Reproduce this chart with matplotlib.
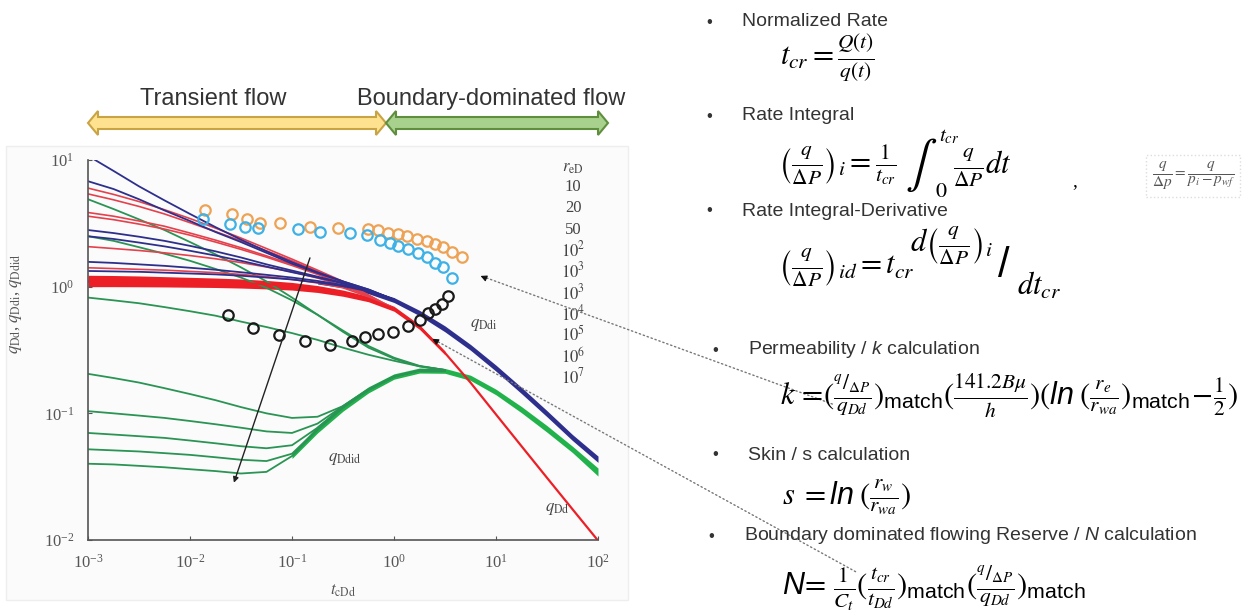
import matplotlib
matplotlib.use("Agg")
import matplotlib.pyplot as plt
from matplotlib.patches import Polygon, Rectangle

plt.rcParams["font.family"] = ["Liberation Serif", "DejaVu Serif"]
plt.rcParams["mathtext.fontset"] = "custom"
plt.rcParams["mathtext.rm"] = "STIXGeneral"
plt.rcParams["mathtext.it"] = "STIXGeneral:italic"
plt.rcParams["mathtext.sf"] = "Liberation Sans"
plt.rcParams["mathtext.bf"] = "Liberation Sans:italic"
plt.rcParams["mathtext.fallback"] = "stix"

W, H = 1244, 613


def fx(px):
    return px / W


def fy(py):
    return 1 - py / H


# ── data (quarter-decade grid in t_cDd) ────────────────────────────────────
T4 = [0.001, 0.00178, 0.00316, 0.00562, 0.01, 0.0178, 0.0316, 0.0562, 0.1, 0.178,
      0.316, 0.562, 1.0, 1.78, 3.16, 5.62, 10.0, 17.8, 31.6, 56.2, 100.0]

# q_Ddi, transient branches (t = 0.001 .. 1)
BLUE_CURVES = [
    [10.8, 8.2, 6.2, 4.8, 3.75, 2.95, 2.35, 1.9, 1.56, 1.3, 1.1, 0.95, 0.79],
    [6.8, 5.9, 4.9, 4.0, 3.3, 2.7, 2.25, 1.85, 1.52, 1.28, 1.1, 0.95, 0.79],
    [2.8, 2.65, 2.48, 2.3, 2.1, 1.9, 1.7, 1.5, 1.34, 1.2, 1.07, 0.94, 0.79],
    [2.5, 2.38, 2.23, 2.08, 1.92, 1.76, 1.6, 1.44, 1.3, 1.18, 1.06, 0.94, 0.79],
    [1.57, 1.54, 1.5, 1.46, 1.41, 1.36, 1.3, 1.24, 1.18, 1.11, 1.03, 0.93, 0.79],
    [1.33, 1.32, 1.31, 1.29, 1.27, 1.25, 1.22, 1.18, 1.14, 1.08, 1.01, 0.92, 0.79],
]
# q_Dd, transient branches (t = 0.001 .. 1)
RED_CURVES = [
    [6.0, 5.35, 4.7, 4.05, 3.45, 2.9, 2.42, 2.0, 1.65, 1.35, 1.1, 0.86, 0.67],
    [5.4, 4.85, 4.3, 3.75, 3.2, 2.72, 2.3, 1.92, 1.6, 1.32, 1.08, 0.85, 0.67],
    [3.85, 3.6, 3.3, 3.0, 2.65, 2.33, 2.03, 1.75, 1.5, 1.27, 1.06, 0.85, 0.67],
    [3.6, 3.38, 3.12, 2.85, 2.55, 2.25, 1.97, 1.71, 1.47, 1.25, 1.05, 0.84, 0.67],
    [2.07, 2.0, 1.93, 1.85, 1.76, 1.66, 1.55, 1.43, 1.31, 1.17, 1.02, 0.84, 0.67],
    [1.41, 1.39, 1.37, 1.35, 1.32, 1.29, 1.25, 1.2, 1.14, 1.07, 0.98, 0.83, 0.67],
]
# q_Ddid, transient branches (t = 0.001 .. 3.16)
GREEN_CURVES = [
    [4.9, 4.1, 3.4, 2.8, 2.25, 1.8, 1.42, 1.1, 0.82, 0.6, 0.44, 0.33, 0.27, 0.235, 0.22],
    [2.5, 2.3, 2.05, 1.82, 1.6, 1.38, 1.18, 0.98, 0.78, 0.6, 0.45, 0.34, 0.275, 0.237, 0.22],
    [0.82, 0.78, 0.74, 0.69, 0.64, 0.59, 0.53, 0.48, 0.43, 0.38, 0.33, 0.29, 0.26, 0.235, 0.22],
    [0.205, 0.19, 0.175, 0.158, 0.142, 0.127, 0.112, 0.1, 0.092, 0.094, 0.114, 0.155, 0.196, 0.218, 0.217],
    [0.104, 0.1, 0.096, 0.092, 0.087, 0.082, 0.077, 0.072, 0.07, 0.083, 0.114, 0.154, 0.195, 0.218, 0.217],
    [0.07, 0.068, 0.066, 0.064, 0.061, 0.058, 0.055, 0.053, 0.056, 0.077, 0.112, 0.153, 0.195, 0.218, 0.217],
    [0.052, 0.051, 0.05, 0.0485, 0.047, 0.045, 0.043, 0.042, 0.048, 0.075, 0.111, 0.153, 0.195, 0.218, 0.217],
    [0.040, 0.0395, 0.0385, 0.0375, 0.0362, 0.035, 0.0335, 0.0345, 0.046, 0.074, 0.111, 0.153, 0.195, 0.218, 0.217],
]

# converged stems: thick red band (t = 0.001 .. 3.16) and red line (full range)
RED_HI = [1.23, 1.225, 1.215, 1.2, 1.185, 1.17, 1.15, 1.12, 1.08, 1.02, 0.94, 0.84, 0.70, 0.5, 0.31]
RED_LO = [1.0, 1.0, 0.998, 0.995, 0.99, 0.985, 0.975, 0.96, 0.94, 0.9, 0.84, 0.76, 0.64, 0.46, 0.29]
RED_LINE = [1.1, 1.1, 1.1, 1.095, 1.09, 1.08, 1.065, 1.045, 1.01, 0.96, 0.89, 0.8, 0.67,
            0.48, 0.30, 0.175, 0.098, 0.055, 0.031, 0.0175, 0.0099]
# blue band (t = 0.178 .. 100)
BLUE_HI = [1.12, 1.05, 0.95, 0.82, 0.65, 0.49, 0.35, 0.24, 0.16, 0.105, 0.068, 0.046]
BLUE_LO = [1.05, 0.98, 0.88, 0.75, 0.59, 0.44, 0.315, 0.215, 0.143, 0.094, 0.061, 0.041]
# green band (t = 0.1 .. 100)
GREEN_HI = [0.048, 0.08, 0.118, 0.162, 0.205, 0.228, 0.226, 0.2, 0.155, 0.113, 0.08, 0.055, 0.037]
GREEN_LO = [0.044, 0.07, 0.104, 0.145, 0.186, 0.208, 0.207, 0.182, 0.14, 0.101, 0.071, 0.049, 0.032]

ORANGE_T = [0.014, 0.026, 0.036, 0.049, 0.076, 0.15, 0.28, 0.56, 0.70, 0.87, 1.09, 1.34, 1.68, 2.11, 2.52, 3.02, 3.71, 4.64]
ORANGE_Q = [4.04, 3.72, 3.44, 3.17, 3.17, 2.98, 2.93, 2.87, 2.82, 2.65, 2.59, 2.49, 2.39, 2.30, 2.16, 2.04, 1.88, 1.70]
CYAN_T = [0.0134, 0.0247, 0.0346, 0.0464, 0.115, 0.188, 0.371, 0.543, 0.729, 0.914, 1.09, 1.37, 1.72, 2.11, 2.52, 3.02, 3.71]
CYAN_Q = [3.44, 3.11, 2.98, 2.93, 2.87, 2.70, 2.65, 2.54, 2.34, 2.21, 2.08, 2.00, 1.84, 1.70, 1.54, 1.42, 1.18]
BLACK_T = [0.0236, 0.0415, 0.0746, 0.134, 0.236, 0.388, 0.520, 0.697, 0.977, 1.37, 1.80, 2.15, 2.52, 2.96, 3.38]
BLACK_Q = [0.596, 0.468, 0.415, 0.375, 0.346, 0.375, 0.398, 0.423, 0.44, 0.487, 0.55, 0.62, 0.67, 0.73, 0.84]

RED_LABELS = ["10", "20", "50", r"$10^2$", r"$10^3$", r"$10^3$", r"$10^4$", r"$10^5$", r"$10^6$", r"$10^7$"]

C_RED, C_BLUE, C_GREEN = "#ec1f27", "#2e2f8c", "#2a9454"

fig = plt.figure(figsize=(W / 100, H / 100), dpi=100)

# faint frame of the pasted chart
fig.patches.append(Rectangle((fx(6), fy(600)), fx(628) - fx(6), fy(146) - fy(600),
                             transform=fig.transFigure, facecolor="#fbfbfb",
                             edgecolor="#eeeeee", lw=1, zorder=-1))

ax = fig.add_axes([fx(88), fy(540), fx(598) - fx(88), fy(160) - fy(540)])
ax.set_facecolor("none")
ax.set_xscale("log")
ax.set_yscale("log")
ax.set_xlim(1e-3, 1e2)
ax.set_ylim(1e-2, 1e1)

for q in GREEN_CURVES:
    ax.plot(T4[:15], q, color=C_GREEN, lw=1.3)
ax.fill_between(T4[8:], GREEN_LO, GREEN_HI, color="#22b24c", lw=0)
for q in RED_CURVES:
    ax.plot(T4[:13], q, color="#e4414d", lw=1.2)
ax.fill_between(T4[:15], RED_LO, RED_HI, color=C_RED, lw=0)
ax.plot(T4, RED_LINE, color=C_RED, lw=1.6)
for q in BLUE_CURVES:
    ax.plot(T4[:13], q, color=C_BLUE, lw=1.3)
ax.fill_between(T4[9:], BLUE_LO, BLUE_HI, color=C_BLUE, lw=0)

mk = dict(ls="none", marker="o", mfc="none", ms=7.5, mew=1.6)
ax.plot(ORANGE_T, ORANGE_Q, mec="#eea255", **mk)
ax.plot(CYAN_T, CYAN_Q, mec="#3eb1e6", **mk)
ax.plot(BLACK_T, BLACK_Q, mec="#1a1a1a", **mk)

ax.annotate("", xy=(0.0264, 0.027), xytext=(0.153, 1.77),
            arrowprops=dict(arrowstyle="-|>", color="#222", lw=1, mutation_scale=8))

ax.text(5.6, 0.48, r"$q_{\rm Ddi}$", fontsize=12, color="#444")
ax.text(0.225, 0.042, r"$q_{\rm Ddid}$", fontsize=12, color="#444")
ax.text(30, 0.017, r"$q_{\rm Dd}$", fontsize=12, color="#444")

ax.text(0.951, 0.98, r"$r_{\rm eD}$", transform=ax.transAxes, fontsize=12,
        color="#444", ha="center", va="center")
for i, lab in enumerate(RED_LABELS):
    ax.text(0.951, 0.928 - i * 0.0556, lab, transform=ax.transAxes, fontsize=12,
            color="#444", ha="center", va="center")

for s in ["top", "right"]:
    ax.spines[s].set_visible(False)
for s in ["left", "bottom"]:
    ax.spines[s].set_color("#555")
    ax.spines[s].set_linewidth(1.2)
ax.tick_params(which="major", direction="in", length=3, color="#555",
               labelsize=12, labelcolor="#555", pad=10)
ax.tick_params(which="minor", length=0)
ax.set_xlabel(r"$t_{\rm cDd}$", fontsize=12, color="#555", labelpad=8)
ax.set_ylabel(r"$q_{\rm Dd}$, $q_{\rm Ddi}$, $q_{\rm Ddid}$", fontsize=12,
              color="#555", labelpad=6)
ax.yaxis.set_label_coords(-0.125, 0.62)

# dotted pointers from the equations
ax.annotate("", xy=(6.66, 1.24), xytext=(fx(835), fy(405)), textcoords="figure fraction",
            arrowprops=dict(arrowstyle="-", ls=(0, (1, 2)), color="#777", lw=1),
            annotation_clip=False)
ax.annotate("", xy=(6.66, 1.24), xytext=(7, -3), textcoords="offset points",
            arrowprops=dict(arrowstyle="-|>", color="#111", lw=0.8, mutation_scale=9))
ax.annotate("", xy=(2.25, 0.398), xytext=(fx(858), fy(573)), textcoords="figure fraction",
            arrowprops=dict(arrowstyle="-", ls=(0, (1, 2)), color="#777", lw=1),
            annotation_clip=False)
ax.annotate("", xy=(2.25, 0.398), xytext=(6, -3.6), textcoords="offset points",
            arrowprops=dict(arrowstyle="-|>", color="#111", lw=0.8, mutation_scale=9))


# ── flow regime arrows ──────────────────────────────────────────────────────
def block_arrow(x0, x1, yc, face, edge):
    h, hh, bb = 10, 12, 6
    pts = [(x0, yc), (x0 + h, yc - hh), (x0 + h, yc - bb), (x1 - h, yc - bb),
           (x1 - h, yc - hh), (x1, yc), (x1 - h, yc + hh), (x1 - h, yc + bb),
           (x0 + h, yc + bb), (x0 + h, yc + hh)]
    fig.patches.append(Polygon([(fx(a), fy(b)) for a, b in pts], closed=True,
                               transform=fig.transFigure, facecolor=face,
                               edgecolor=edge, lw=1.5))


block_arrow(88, 386, 123, "#ffe28f", "#c9a445")
block_arrow(386, 608, 123, "#a9d18e", "#5f8f3e")
sans = ["Liberation Sans", "DejaVu Sans"]
fig.text(fx(213), fy(99), "Transient flow", family=sans, fontsize=17,
         color="#333", ha="center", va="center")
fig.text(fx(491), fy(99), "Boundary-dominated flow", family=sans, fontsize=17,
         color="#333", ha="center", va="center")

# ── right-hand notes ────────────────────────────────────────────────────────
BULLETS = [
    (706, 22, "Normalized Rate"),
    (706, 116, "Rate Integral"),
    (706, 211, "Rate Integral-Derivative"),
    (712, 350, r"Permeability / $\mathbf{k}$ calculation"),
    (712, 455, "Skin / s calculation"),
    (708, 536, r"Boundary dominated flowing Reserve / $\mathbf{N}$ calculation"),
]
for x, y, txt in BULLETS:
    fig.text(fx(x), fy(y), "•", family=sans, fontsize=12, color="#333", va="center")
    fig.text(fx(x + 36), fy(y), txt, family=sans, fontsize=14, color="#333", va="center")

fs = 22
fig.text(fx(780), fy(58), r"$t_{cr} = \frac{Q(t)}{q(t)}$", fontsize=fs, va="center")

fig.text(fx(778), fy(166), r"$\left(\frac{q}{\Delta P}\right)_i = \frac{1}{t_{cr}}$",
         fontsize=fs, va="center")
fig.text(fx(905), fy(165), r"$\int$", fontsize=34, va="center")
fig.text(fx(939), fy(137), r"$t_{cr}$", fontsize=15, va="center")
fig.text(fx(936), fy(192), "0", family=["STIXGeneral"], fontsize=16, va="center")
fig.text(fx(953), fy(168), r"$\frac{q}{\Delta P}dt$", fontsize=fs, va="center")
fig.text(fx(1072), fy(182), ",", fontsize=14, va="center")
fig.text(fx(1193), fy(176), r"$\dfrac{q}{\Delta p} = \dfrac{q}{p_i - p_{wf}}$", fontsize=11,
         color="#555", ha="center", va="center",
         bbox=dict(boxstyle="square,pad=0.35", fc="white", ec="#dddddd", ls=":"))

fig.text(fx(778), fy(268), r"$\left(\frac{q}{\Delta P}\right)_{id} = t_{cr}$",
         fontsize=fs, va="center")
fig.text(fx(910), fy(246), r"$d\left(\frac{q}{\Delta P}\right)_i$", fontsize=fs, va="center")
fig.text(fx(998), fy(266), "/", fontsize=30, va="center", family=sans)
fig.text(fx(1017), fy(286), r"$dt_{cr}$", fontsize=fs, va="center")

fig.text(fx(780), fy(396),
         r"$k\,=\!(\frac{{}^{q}/_{\Delta P}}{q_{Dd}})_{\mathsf{match}}(\frac{141.2B\mu}{h})"
         r"(\mathbf{ln}\;(\frac{r_e}{r_{wa}})_{\mathsf{match}}\!-\!\frac{1}{2})$",
         fontsize=fs, va="center")
fig.text(fx(782), fy(497), r"$s\;=\mathbf{ln}\;(\frac{r_w}{r_{wa}})$", fontsize=fs, va="center")
fig.text(fx(782), fy(588),
         r"$\mathbf{N}\!=\,\frac{1}{C_t}(\frac{t_{cr}}{t_{Dd}})_{\mathsf{match}}"
         r"(\frac{{}^{q}/_{\Delta P}}{q_{Dd}})_{\mathsf{match}}$",
         fontsize=fs, va="center")

fig.savefig("out.png", dpi=100)
